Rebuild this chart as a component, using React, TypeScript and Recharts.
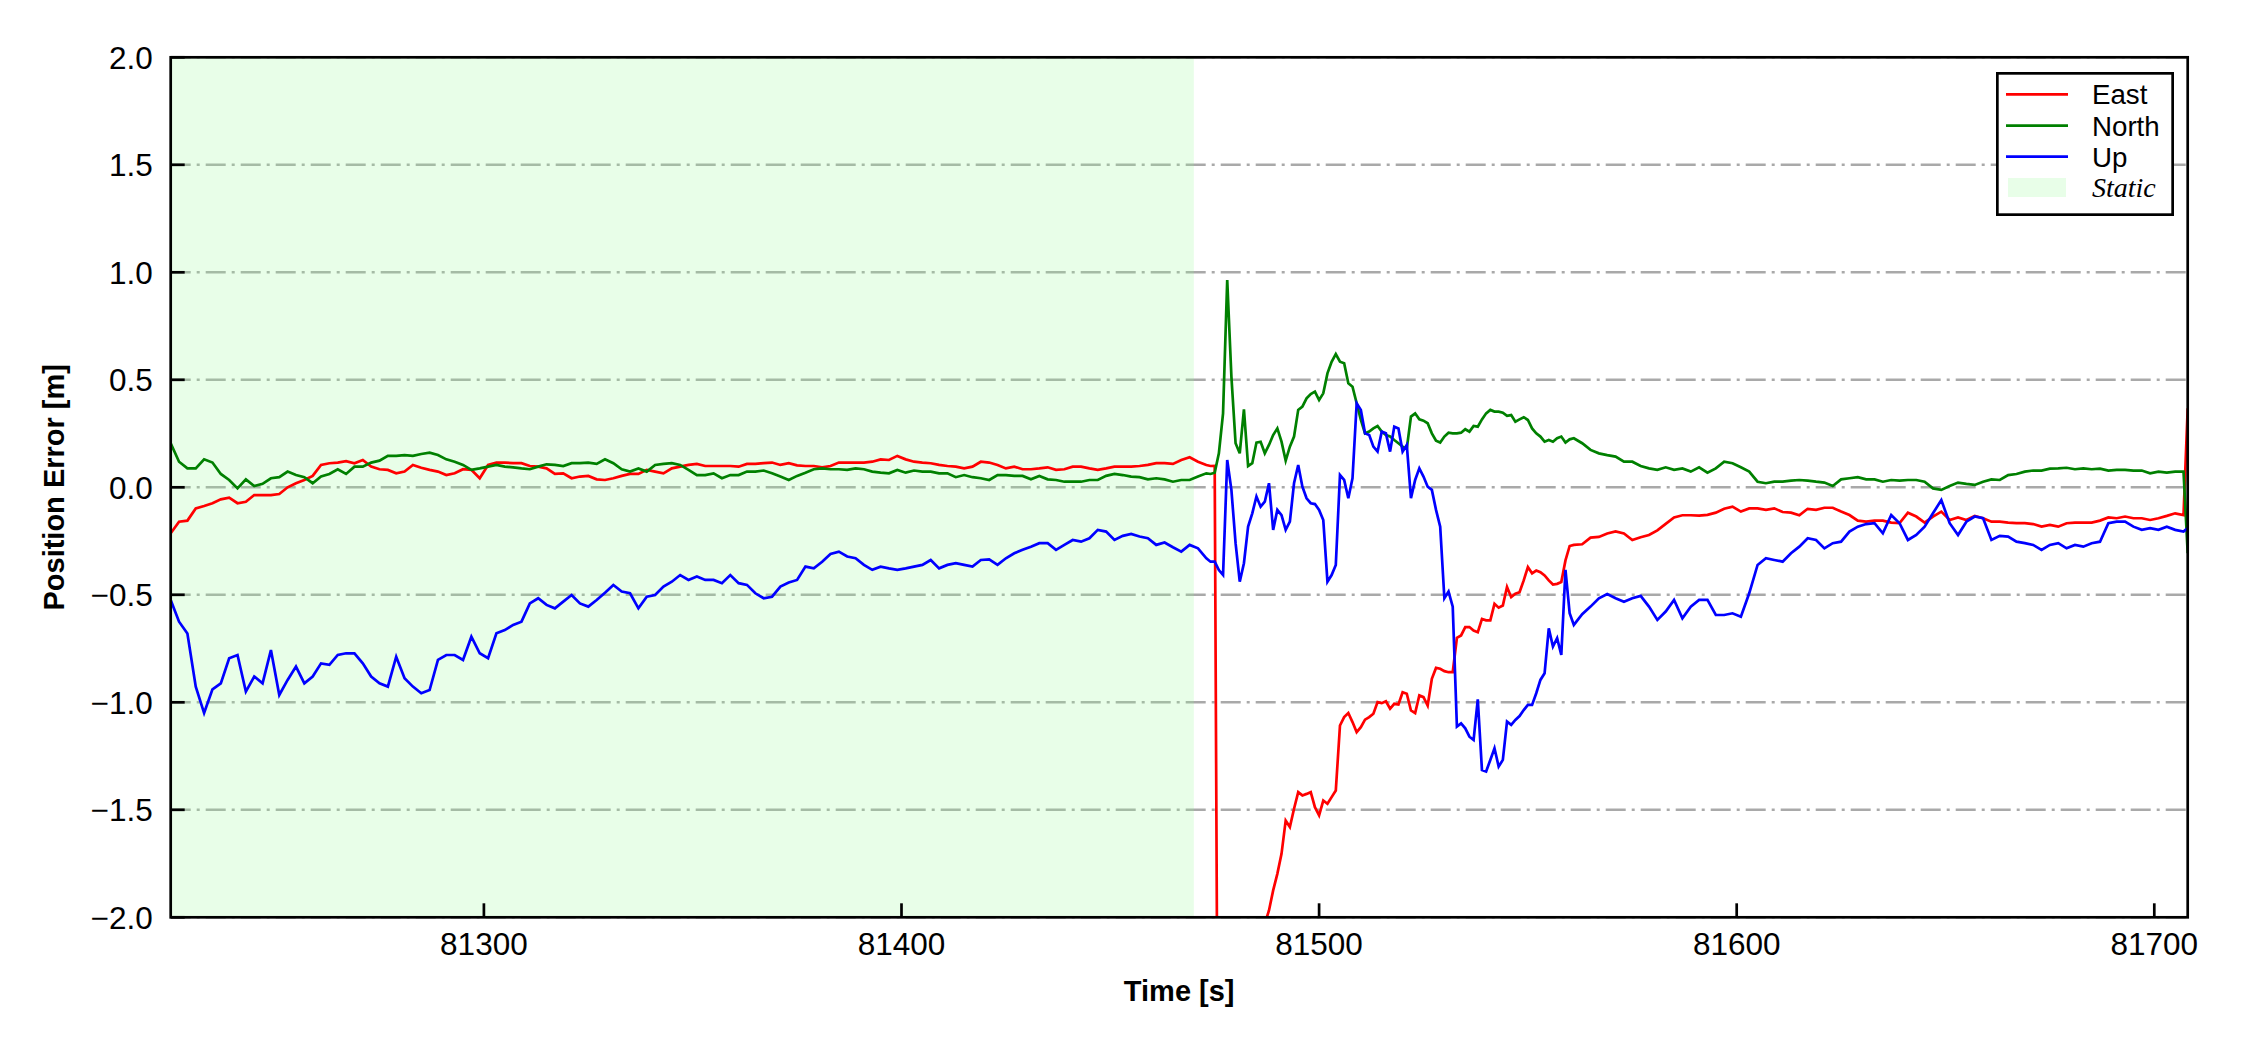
import React from 'react';
import { LineChart, Line, XAxis, YAxis, CartesianGrid, ReferenceArea, Legend } from 'recharts';

// ---- time axis: [start, end, step] segments (1 s sampling kept where the signal is volatile)
const TIME_SEGMENTS: [number, number, number][] = [
  [81225, 81473, 2],
  [81474, 81560, 1],
  [81561, 81707, 2],
  [81708, 81708, 1],
];

// ---- East position error [m]
const EAST_ERR: number[] = [
  // 81225..81323 (step 2)
  -0.214, -0.16, -0.155, -0.098, -0.087, -0.074, -0.056, -0.048, -0.074, -0.067,
  -0.036, -0.036, -0.036, -0.031, 0.0, 0.019, 0.034, 0.053, 0.104, 0.112,
  0.115, 0.122, 0.112, 0.127, 0.096, 0.084, 0.081, 0.065, 0.073, 0.104,
  0.091, 0.081, 0.073, 0.057, 0.065, 0.084, 0.081, 0.042, 0.104, 0.115,
  0.115, 0.112, 0.112, 0.099, 0.096, 0.088, 0.062, 0.065, 0.042, 0.05,
  // 81325..81423
  0.053, 0.037, 0.034, 0.042, 0.053, 0.062, 0.062, 0.081, 0.073, 0.065,
  0.088, 0.096, 0.104, 0.109, 0.099, 0.099, 0.099, 0.099, 0.096, 0.109,
  0.109, 0.112, 0.115, 0.104, 0.112, 0.102, 0.099, 0.099, 0.093, 0.099,
  0.115, 0.115, 0.115, 0.115, 0.119, 0.13, 0.127, 0.146, 0.13, 0.119,
  0.115, 0.112, 0.104, 0.099, 0.096, 0.088, 0.096, 0.119, 0.115, 0.104,
  // 81425..81473
  0.088, 0.096, 0.084, 0.084, 0.088, 0.093, 0.081, 0.084, 0.096, 0.096,
  0.088, 0.081, 0.088, 0.096, 0.096, 0.096, 0.099, 0.104, 0.112, 0.112,
  0.109, 0.127, 0.14, 0.119, 0.104,
  // 81474..81560 (step 1)
  0.099, 0.1, -3.9, -4.2, -3.7, -3.5, -3.3, -3.1, -2.9, -2.8,
  -2.5, -2.4, -2.2, -2.03, -1.968, -1.875, -1.798, -1.705, -1.55, -1.58,
  -1.495, -1.418, -1.433, -1.426, -1.418, -1.488, -1.526, -1.457, -1.472, -1.441,
  -1.41, -1.108, -1.069, -1.05, -1.092, -1.139, -1.116, -1.081, -1.069, -1.053,
  -0.999, -1.004, -0.995, -1.03, -1.007, -1.01, -0.953, -0.96, -1.038, -1.05,
  -0.968, -0.976, -1.015, -0.891, -0.84, -0.844, -0.855, -0.86, -0.86, -0.7,
  -0.689, -0.65, -0.65, -0.666, -0.674, -0.612, -0.619, -0.619, -0.542, -0.56,
  -0.55, -0.464, -0.511, -0.495, -0.488, -0.433, -0.371, -0.4, -0.387, -0.395,
  -0.41, -0.433, -0.452, -0.449, -0.441, -0.34, -0.273,
  // 81561..81621 (step 2)
  -0.268, -0.265, -0.234, -0.231, -0.215, -0.205, -0.215, -0.245, -0.232, -0.222,
  -0.2, -0.17, -0.14, -0.13, -0.13, -0.132, -0.128, -0.118, -0.1, -0.09,
  -0.113, -0.098, -0.098, -0.105, -0.098, -0.115, -0.118, -0.13, -0.1, -0.105,
  -0.095,
  // 81623..81707
  -0.095, -0.113, -0.129, -0.155, -0.16, -0.155, -0.155, -0.164, -0.167, -0.118,
  -0.136, -0.164, -0.136, -0.113, -0.152, -0.14, -0.152, -0.133, -0.144, -0.16,
  -0.16, -0.164, -0.167, -0.167, -0.171, -0.183, -0.175, -0.183, -0.167, -0.164,
  -0.164, -0.164, -0.155, -0.14, -0.144, -0.136, -0.144, -0.144, -0.152, -0.144,
  -0.133, -0.121, -0.129,
  // 81708
  0.367,
];

// ---- North position error [m]
const NORTH_ERR: number[] = [
  0.205, 0.119, 0.088, 0.088, 0.13, 0.115, 0.062, 0.034, -0.005, 0.037,
  0.006, 0.016, 0.042, 0.047, 0.073, 0.057, 0.047, 0.019, 0.05, 0.062,
  0.084, 0.062, 0.096, 0.096, 0.115, 0.124, 0.146, 0.146, 0.15, 0.146,
  0.155, 0.161, 0.15, 0.13, 0.119, 0.104, 0.081, 0.088, 0.096, 0.104,
  0.096, 0.093, 0.088, 0.084, 0.096, 0.107, 0.104, 0.099, 0.112, 0.112,
  0.115, 0.109, 0.13, 0.112, 0.084, 0.073, 0.088, 0.073, 0.104, 0.109,
  0.112, 0.104, 0.081, 0.057, 0.057, 0.065, 0.042, 0.057, 0.057, 0.073,
  0.073, 0.078, 0.065, 0.05, 0.034, 0.053, 0.068, 0.084, 0.088, 0.084,
  0.084, 0.081, 0.088, 0.084, 0.073, 0.068, 0.065, 0.081, 0.068, 0.078,
  0.073, 0.073, 0.065, 0.065, 0.047, 0.057, 0.047, 0.042, 0.034, 0.057,
  0.057, 0.053, 0.053, 0.037, 0.053, 0.037, 0.034, 0.026, 0.026, 0.026,
  0.034, 0.034, 0.053, 0.062, 0.057, 0.05, 0.047, 0.037, 0.042, 0.037,
  0.026, 0.034, 0.034, 0.05, 0.065,
  0.062, 0.068, 0.158, 0.344, 0.964, 0.515, 0.205, 0.158, 0.363, 0.099,
  0.112, 0.208, 0.212, 0.158, 0.197, 0.243, 0.274, 0.212, 0.124, 0.189,
  0.236, 0.36, 0.375, 0.414, 0.434, 0.445, 0.406, 0.437, 0.53, 0.584,
  0.62, 0.584, 0.577, 0.484, 0.468, 0.391, 0.313, 0.251, 0.259, 0.274,
  0.285, 0.259, 0.243, 0.236, 0.22, 0.205, 0.189, 0.181, 0.329, 0.344,
  0.316, 0.31, 0.298, 0.251, 0.217, 0.208, 0.236, 0.254, 0.251, 0.251,
  0.254, 0.27, 0.259, 0.285, 0.282, 0.316, 0.344, 0.36, 0.352, 0.352,
  0.347, 0.332, 0.336, 0.305, 0.316, 0.326, 0.313, 0.274, 0.251, 0.236,
  0.212, 0.22, 0.212, 0.228, 0.236, 0.208, 0.223,
  0.228, 0.205, 0.174, 0.158, 0.15, 0.143, 0.119, 0.119, 0.099, 0.088,
  0.081, 0.093, 0.081, 0.088, 0.073, 0.093, 0.068, 0.088, 0.119, 0.112,
  0.093, 0.073, 0.026, 0.019, 0.026, 0.026, 0.031, 0.034, 0.031, 0.026,
  0.022,
  0.006, 0.037, 0.042, 0.047, 0.037, 0.037, 0.026, 0.034, 0.031, 0.034,
  0.034, 0.026, -0.005, -0.012, 0.006, 0.022, 0.016, 0.011, 0.026, 0.037,
  0.034, 0.057, 0.062, 0.073, 0.078, 0.078, 0.087, 0.088, 0.091, 0.084,
  0.088, 0.084, 0.087, 0.078, 0.081, 0.081, 0.078, 0.078, 0.065, 0.073,
  0.068, 0.073, 0.073,
  -0.307,
];

// ---- Up position error [m]
const UP_ERR: number[] = [
  -0.524, -0.625, -0.68, -0.927, -1.05, -0.94, -0.912, -0.795, -0.78, -0.95,
  -0.88, -0.912, -0.757, -0.966, -0.896, -0.834, -0.912, -0.88, -0.819, -0.826,
  -0.78, -0.772, -0.772, -0.819, -0.88, -0.912, -0.927, -0.788, -0.888, -0.927,
  -0.958, -0.943, -0.803, -0.78, -0.78, -0.803, -0.695, -0.772, -0.795, -0.679,
  -0.664, -0.64, -0.625, -0.54, -0.516, -0.547, -0.563, -0.532, -0.501, -0.54,
  -0.555, -0.524, -0.49, -0.454, -0.485, -0.493, -0.563, -0.509, -0.501, -0.462,
  -0.439, -0.408, -0.431, -0.415, -0.431, -0.431, -0.446, -0.408, -0.446, -0.454,
  -0.493, -0.516, -0.509, -0.462, -0.443, -0.431, -0.369, -0.377, -0.346, -0.31,
  -0.299, -0.322, -0.33, -0.361, -0.384, -0.369, -0.377, -0.384, -0.377, -0.369,
  -0.361, -0.338, -0.377, -0.361, -0.353, -0.361, -0.369, -0.338, -0.335, -0.361,
  -0.33, -0.307, -0.291, -0.276, -0.26, -0.26, -0.291, -0.268, -0.245, -0.253,
  -0.237, -0.198, -0.206, -0.245, -0.226, -0.217, -0.229, -0.237, -0.268, -0.257,
  -0.279, -0.299, -0.268, -0.284, -0.33,
  -0.346, -0.346, -0.385, -0.408, 0.127, -0.012, -0.26, -0.439, -0.353, -0.183,
  -0.121, -0.043, -0.09, -0.067, 0.019, -0.198, -0.105, -0.129, -0.198, -0.16,
  0.019, 0.104, 0.003, -0.051, -0.074, -0.078, -0.105, -0.152, -0.439, -0.408,
  -0.361, 0.057, 0.034, -0.051, 0.042, 0.391, 0.36, 0.251, 0.243, 0.189,
  0.166, 0.259, 0.251, 0.166, 0.282, 0.274, 0.166, 0.197, -0.051, 0.034,
  0.088, 0.05, 0.003, -0.012, -0.105, -0.183, -0.516, -0.485, -0.555, -1.113,
  -1.098, -1.121, -1.16, -1.175, -0.986, -1.315, -1.322, -1.268, -1.214, -1.299,
  -1.268, -1.09, -1.105, -1.082, -1.064, -1.036, -1.012, -1.012, -0.958, -0.896,
  -0.865, -0.656, -0.741, -0.702, -0.78, -0.384, -0.586,
  -0.64, -0.59, -0.555, -0.516, -0.496, -0.516, -0.532, -0.516, -0.505, -0.555,
  -0.617, -0.578, -0.524, -0.609, -0.555, -0.524, -0.524, -0.594, -0.594, -0.586,
  -0.602, -0.493, -0.361, -0.33, -0.338, -0.346, -0.307, -0.276, -0.237, -0.245,
  -0.284,
  -0.26, -0.253, -0.206, -0.183, -0.171, -0.167, -0.214, -0.129, -0.167, -0.245,
  -0.222, -0.183, -0.121, -0.059, -0.167, -0.222, -0.16, -0.136, -0.144, -0.245,
  -0.226, -0.229, -0.253, -0.26, -0.268, -0.291, -0.268, -0.26, -0.284, -0.268,
  -0.276, -0.26, -0.253, -0.167, -0.16, -0.16, -0.183, -0.198, -0.19, -0.198,
  -0.183, -0.198, -0.206,
  -0.19,
];

const X_TICKS = [81300, 81400, 81500, 81600, 81700];
const Y_TICKS = [-2, -1.5, -1, -0.5, 0, 0.5, 1, 1.5, 2];
const X_DOMAIN: [number, number] = [81225, 81708];
const Y_DOMAIN: [number, number] = [-2, 2];
const STATIC_SPAN: [number, number] = [81225, 81470];

const SERIES = [
  { key: 'east', name: 'East', color: '#ff0000', values: EAST_ERR },
  { key: 'north', name: 'North', color: '#008000', values: NORTH_ERR },
  { key: 'up', name: 'Up', color: '#0000ff', values: UP_ERR },
];
const STATIC_LABEL = 'Static';
const STATIC_FILL = 'rgb(152,251,152)';
const STATIC_OPACITY = 0.22;

const X_LABEL = 'Time [s]';
const Y_LABEL = 'Position Error [m]';

// ---- build table for recharts
function buildTimes(): number[] {
  const out: number[] = [];
  for (const [s, e, st] of TIME_SEGMENTS) {
    for (let t = s; t <= e; t += st) out.push(t);
  }
  return out;
}
const TIMES = buildTimes();
const DATA = TIMES.map((t, i) => {
  const row: Record<string, number> = { t };
  SERIES.forEach((s) => {
    row[s.key] = s.values[i];
  });
  return row;
});

// ---- layout
const W = 2250;
const H = 1050;
const PLOT = { left: 170.7, top: 57.3, right: 2187.7, bottom: 917.3 };
const Y_AXIS_W = 100;
const X_AXIS_H = 60;
const FONT = '"Liberation Sans", Arial, Helvetica, sans-serif';
const AXIS_LW = 2.7;
const TICK_LEN = 14;
const TICK_FS = 31.5;

const fmtY = (v: number) => (v < 0 ? '\u2212' : '') + Math.abs(v).toFixed(1);

const XTick = (props: any) => {
  const { x, y, payload } = props;
  return (
    <g>
      <line x1={x} x2={x} y1={y} y2={y - TICK_LEN} stroke="#000" strokeWidth={AXIS_LW} />
      <text x={x} y={y + 37.7} textAnchor="middle" fontSize={TICK_FS} fontFamily={FONT} fill="#000">
        {payload.value}
      </text>
    </g>
  );
};

const YTick = (props: any) => {
  const { x, y, payload } = props;
  return (
    <g>
      <line x1={x} x2={x + TICK_LEN} y1={y} y2={y} stroke="#000" strokeWidth={AXIS_LW} />
      <text x={x - 18} y={y + 11.5} textAnchor="end" fontSize={TICK_FS} fontFamily={FONT} fill="#000">
        {fmtY(payload.value)}
      </text>
    </g>
  );
};

const LEG = { left: 1996, top: 72, width: 178, height: 144 };

const renderLegend = () => {
  const rowY = [22.3, 53.7, 84.7];
  const baseY = [32, 64, 94.7];
  return (
    <svg width={LEG.width} height={LEG.height} style={{ display: 'block' }}>
      <rect x={1.35} y={1.35} width={LEG.width - 2.7} height={LEG.height - 2.7} fill="#fff" stroke="#000" strokeWidth={2.7} />
      {SERIES.map((s, i) => (
        <g key={s.key}>
          <line x1={10} x2={72} y1={rowY[i]} y2={rowY[i]} stroke={s.color} strokeWidth={2.8} />
          <text x={96} y={baseY[i]} fontSize={27.7} fontFamily={FONT} fill="#000">
            {s.name}
          </text>
        </g>
      ))}
      <rect x={12} y={106} width={58} height={19} fill={STATIC_FILL} fillOpacity={STATIC_OPACITY} />
      <text x={96} y={124.7} fontSize={28} fontStyle="italic" fontFamily='"Liberation Serif", "Times New Roman", serif' fill="#000">
        {STATIC_LABEL}
      </text>
    </svg>
  );
};

export default function App() {
  return (
    <div style={{ position: 'absolute', left: 0, top: 0, width: W, height: H, background: '#fff' }}>
      <LineChart
        width={W}
        height={H}
        data={DATA}
        margin={{
          top: PLOT.top,
          right: W - PLOT.right,
          bottom: H - PLOT.bottom - X_AXIS_H,
          left: PLOT.left - Y_AXIS_W,
        }}
      >
        <ReferenceArea
          x1={STATIC_SPAN[0]}
          x2={STATIC_SPAN[1]}
          y1={Y_DOMAIN[0]}
          y2={Y_DOMAIN[1]}
          fill={STATIC_FILL}
          fillOpacity={STATIC_OPACITY}
          stroke="none"
        />
        <CartesianGrid vertical={false} stroke="#a9a9a9" strokeWidth={2.4} strokeDasharray="20 6 3 6" />
        <XAxis
          dataKey="t"
          type="number"
          domain={X_DOMAIN}
          ticks={X_TICKS}
          allowDataOverflow
          height={X_AXIS_H}
          axisLine={false}
          tickLine={false}
          tickSize={0}
          tickMargin={0}
          tick={<XTick />}
          interval={0}
        />
        <YAxis
          type="number"
          domain={Y_DOMAIN}
          ticks={Y_TICKS}
          allowDataOverflow
          width={Y_AXIS_W}
          axisLine={false}
          tickLine={false}
          tickSize={0}
          tickMargin={0}
          tick={<YTick />}
          interval={0}
        />
        {SERIES.map((s) => (
          <Line
            key={s.key}
            type="linear"
            dataKey={s.key}
            name={s.name}
            stroke={s.color}
            strokeWidth={2.7}
            dot={false}
            activeDot={false}
            isAnimationActive={false}
          />
        ))}
        <Legend
          layout="horizontal"
          verticalAlign="middle"
          align="center"
          content={renderLegend}
          wrapperStyle={{ left: LEG.left, top: LEG.top, width: LEG.width, height: LEG.height }}
        />
      </LineChart>
      <svg
        width={W}
        height={H}
        style={{ position: 'absolute', left: 0, top: 0, pointerEvents: 'none' }}
      >
        <rect
          x={PLOT.left}
          y={PLOT.top}
          width={PLOT.right - PLOT.left}
          height={PLOT.bottom - PLOT.top}
          fill="none"
          stroke="#000"
          strokeWidth={AXIS_LW}
        />
        <text
          x={(PLOT.left + PLOT.right) / 2}
          y={1001}
          textAnchor="middle"
          fontSize={29}
          fontWeight="bold"
          fontFamily={FONT}
          fill="#000"
        >
          {X_LABEL}
        </text>
        <text
          transform={`translate(64, ${(PLOT.top + PLOT.bottom) / 2}) rotate(-90)`}
          textAnchor="middle"
          fontSize={29}
          fontWeight="bold"
          fontFamily={FONT}
          fill="#000"
        >
          {Y_LABEL}
        </text>
      </svg>
    </div>
  );
}
